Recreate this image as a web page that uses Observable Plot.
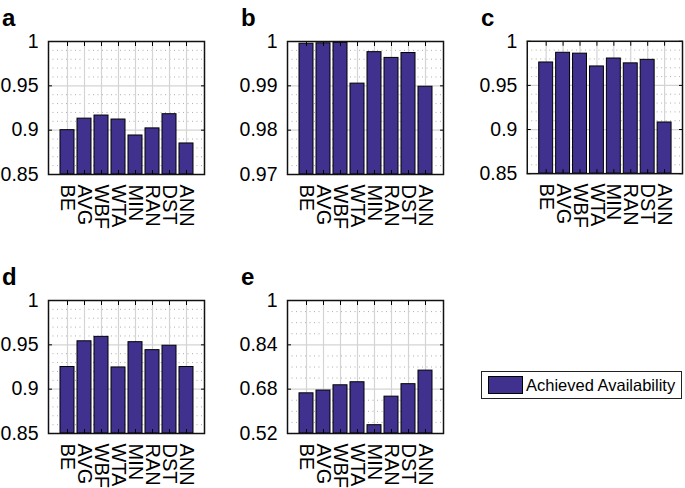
<!DOCTYPE html>
<html>
<head>
<meta charset="utf-8">
<script src="https://cdn.jsdelivr.net/npm/d3@7"></script>
<script src="https://cdn.jsdelivr.net/npm/@observablehq/plot@0.6"></script>
<style>
  html, body { margin: 0; padding: 0; background: #fff; width: 685px; height: 488px; overflow: hidden; }
  body { position: relative; font-family: "Liberation Sans", Arial, sans-serif; }
  .panel { position: absolute; }
  .letter { position: absolute; font-weight: bold; font-size: 24px; line-height: 1; color: #000; }
  #legend { position: absolute; left: 481px; top: 371px; width: 199px; height: 26px; border: 1.5px solid #222; background: #fff; }
  #legend .sw { position: absolute; left: 6px; top: 4px; width: 33px; height: 16px; background: #40318f; border: 1px solid #000; }
  #legend .tx { position: absolute; left: 44px; top: 3px; font-size: 16.5px; line-height: 20px; color: #000; white-space: nowrap; }
</style>
</head>
<body>
<div id="legend"><div class="sw"></div><div class="tx">Achieved Availability</div></div>
<script>
const categories = ["BE", "AVG", "WBF", "WTA", "MIN", "RAN", "DST", "ANN"];

const valuesA = [0.900, 0.913, 0.9165, 0.912, 0.894, 0.902, 0.918, 0.885];
const valuesB = [0.9995, 0.9996, 0.9997, 0.9905, 0.9976, 0.9963, 0.9974, 0.9898];
const valuesC = [0.976, 0.987, 0.986, 0.9715, 0.9805, 0.975, 0.979, 0.908];
const valuesD = [0.925, 0.954, 0.959, 0.9245, 0.953, 0.944, 0.949, 0.925];
const valuesE = [0.665, 0.675, 0.694, 0.705, 0.550, 0.653, 0.698, 0.747];

const ticksA = [0.85, 0.9, 0.95, 1];
const ticksB = [0.97, 0.98, 0.99, 1];
const ticksC = [0.85, 0.9, 0.95, 1];
const ticksD = [0.85, 0.9, 0.95, 1];
const ticksE = [0.52, 0.68, 0.84, 1];

const minorA = 0.01, minorB = 0.002, minorC = 0.01, minorD = 0.01, minorE = 0.04;

const barColor = "#40318f";
const font = "'Liberation Sans', Arial, sans-serif";

function panel(values, ticks, minorStep, letter, left, top) {
  const lo = ticks[0], hi = ticks[ticks.length - 1];
  const data = categories.map((c, i) => ({cat: c, v: values[i]}));
  const n = Math.round((hi - lo) / minorStep);
  const minor = d3.range(1, n).map(k => lo + k * minorStep)
    .filter(m => !ticks.some(t => Math.abs(t - m) < minorStep / 10));
  const chart = Plot.plot({
    width: 207,
    height: 240,
    marginLeft: 48,
    marginRight: 3,
    marginTop: 41,
    marginBottom: 66,
    style: {fontFamily: font, fontSize: "19.5px", color: "#000", background: "transparent", overflow: "visible"},
    x: {domain: categories, paddingInner: 0.2, paddingOuter: 0.6, label: null},
    y: {domain: [lo, hi], label: null},
    marks: [
      Plot.gridY(minor, {stroke: "#8a8a8a", strokeOpacity: 0.7, strokeDasharray: "1,3.5"}),
      Plot.gridY(ticks, {stroke: "#d4d4d4", strokeOpacity: 1, strokeWidth: 1.2}),
      Plot.gridX(categories, {stroke: "#d4d4d4", strokeOpacity: 1, strokeWidth: 1.2}),
      Plot.barY(data, {x: "cat", y1: lo, y2: "v", fill: barColor, stroke: "#000", strokeWidth: 1}),
      Plot.axisY(ticks, {anchor: "left", tickSize: -4, tickPadding: 14, tickFormat: d => String(d), label: null}),
      Plot.axisY(ticks, {anchor: "right", tickSize: -4, tickFormat: () => "", label: null}),
      Plot.axisX({anchor: "bottom", tickSize: -4, tickPadding: 14, tickRotate: 90, fontSize: 20, label: null}),
      Plot.axisX({anchor: "top", tickSize: -4, tickFormat: () => "", label: null}),
      Plot.frame({stroke: "#111", strokeWidth: 1.5})
    ]
  });
  const div = document.createElement("div");
  div.className = "panel";
  div.style.left = left + "px";
  div.style.top = top + "px";
  div.appendChild(chart);
  document.body.appendChild(div);
  const lab = document.createElement("div");
  lab.className = "letter";
  lab.textContent = letter;
  lab.style.left = (left + 2) + "px";
  lab.style.top = (top + 6) + "px";
  document.body.appendChild(lab);
}

panel(valuesA, ticksA, minorA, "a", 0, 0);
panel(valuesB, ticksB, minorB, "b", 239, 0);
panel(valuesC, ticksC, minorC, "c", 479, 0);
panel(valuesD, ticksD, minorD, "d", 0, 259);
panel(valuesE, ticksE, minorE, "e", 239, 259);
</script>
</body>
</html>
